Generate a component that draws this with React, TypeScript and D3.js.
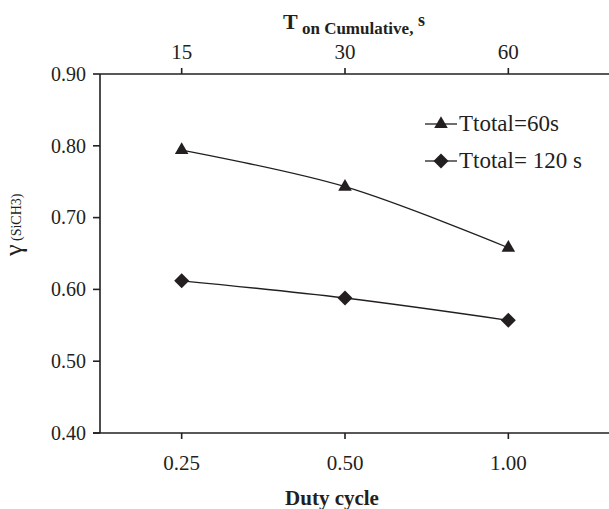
import React from "react";
import * as d3 from "d3";

const dutyCycles = ["0.25", "0.50", "1.00"];
const tonCumulative = ["15", "30", "60"];
const series60 = [0.794, 0.743, 0.658];
const series120 = [0.612, 0.588, 0.557];
const yTicks = [0.4, 0.5, 0.6, 0.7, 0.8, 0.9];
const legendLabels = ["Ttotal=60s", "Ttotal= 120 s"];

const W = 609;
const H = 509;
const ink = "#231f20";
const serif = "'Liberation Serif', 'Times New Roman', serif";

export default function App() {
  const left = 100, right = 590, top = 74, bottom = 433;
  const x = d3.scalePoint<string>().domain(dutyCycles).range([left, right]).padding(0.5);
  const xTop = d3.scalePoint<string>().domain(tonCumulative).range([left, right]).padding(0.5);
  const y = d3.scaleLinear().domain([0.4, 0.9]).range([bottom, top]);

  const line = d3
    .line<number>()
    .x((_, i) => x(dutyCycles[i]) as number)
    .y((d) => y(d))
    .curve(d3.curveCatmullRom.alpha(0.5));

  const tri = d3.symbol().type(d3.symbolTriangle).size(80)();
  const dia = (cx: number, cy: number, r: number) =>
    `M${cx},${cy - r}L${cx + r},${cy}L${cx},${cy + r}L${cx - r},${cy}Z`;

  return (
    <svg
      width={W}
      height={H}
      style={{ position: "absolute", left: 0, top: 0, background: "#fff" }}
      fontFamily={serif}
    >
      <rect width={W} height={H} fill="#fff" />
      {/* axes */}
      <line x1={left} x2={W} y1={top} y2={top} stroke={ink} strokeWidth={1.6} />
      <line x1={left - 7} x2={W} y1={bottom} y2={bottom} stroke={ink} strokeWidth={1.6} />
      <line x1={left} x2={left} y1={top} y2={bottom} stroke={ink} strokeWidth={1.6} />
      {yTicks.map((t) => (
        <g key={t}>
          <line x1={left - 7} x2={left} y1={y(t)} y2={y(t)} stroke={ink} strokeWidth={1.6} />
          <text x={left - 14} y={y(t)} dy="0.34em" textAnchor="end" fontSize={20} fill={ink}>
            {t.toFixed(2)}
          </text>
        </g>
      ))}
      {dutyCycles.map((c) => (
        <g key={c}>
          <line x1={x(c)} x2={x(c)} y1={bottom} y2={bottom + 6} stroke={ink} strokeWidth={1.6} />
          <text x={x(c)} y={470} textAnchor="middle" fontSize={21} fill={ink}>
            {c}
          </text>
        </g>
      ))}
      {tonCumulative.map((c) => (
        <g key={c}>
          <line x1={xTop(c)} x2={xTop(c)} y1={top} y2={top - 6} stroke={ink} strokeWidth={1.6} />
          <text x={xTop(c)} y={59} textAnchor="middle" fontSize={21} fill={ink}>
            {c}
          </text>
        </g>
      ))}
      {/* axis titles */}
      <text x={332} y={505} textAnchor="middle" fontSize={21} fontWeight="bold" fill={ink}>
        Duty cycle
      </text>
      <text x={283} y={29} fontWeight="bold" fill={ink}>
        <tspan fontSize={22}>T</tspan>
        <tspan fontSize={17} dy={5}> on Cumulative,</tspan>
        <tspan fontSize={18} dy={-8}> s</tspan>
      </text>
      <text transform="translate(22,256) rotate(-90)" fill={ink}>
        <tspan fontSize={26}>γ</tspan>
        <tspan fontSize={14} dy={-1}> (SiCH3)</tspan>
      </text>
      {/* series */}
      <path d={line(series60) || ""} fill="none" stroke={ink} strokeWidth={1.3} />
      <path d={line(series120) || ""} fill="none" stroke={ink} strokeWidth={1.3} />
      {series60.map((v, i) => (
        <path
          key={"t" + i}
          d={tri}
          transform={`translate(${x(dutyCycles[i])},${y(v)})`}
          fill={ink}
        />
      ))}
      {series120.map((v, i) => (
        <path key={"d" + i} d={dia(x(dutyCycles[i]) as number, y(v), 7.5)} fill={ink} />
      ))}
      {/* legend */}
      <g>
        <line x1={425} x2={457} y1={124} y2={124} stroke={ink} strokeWidth={1.3} />
        <path d={tri} transform="translate(441,124)" fill={ink} />
        <text x={459} y={131} fontSize={23} fill={ink}>
          {legendLabels[0]}
        </text>
        <line x1={425} x2={457} y1={161} y2={161} stroke={ink} strokeWidth={1.3} />
        <path d={dia(441, 161, 7.5)} fill={ink} />
        <text x={459} y={168} fontSize={23} fill={ink}>
          {legendLabels[1]}
        </text>
      </g>
    </svg>
  );
}
